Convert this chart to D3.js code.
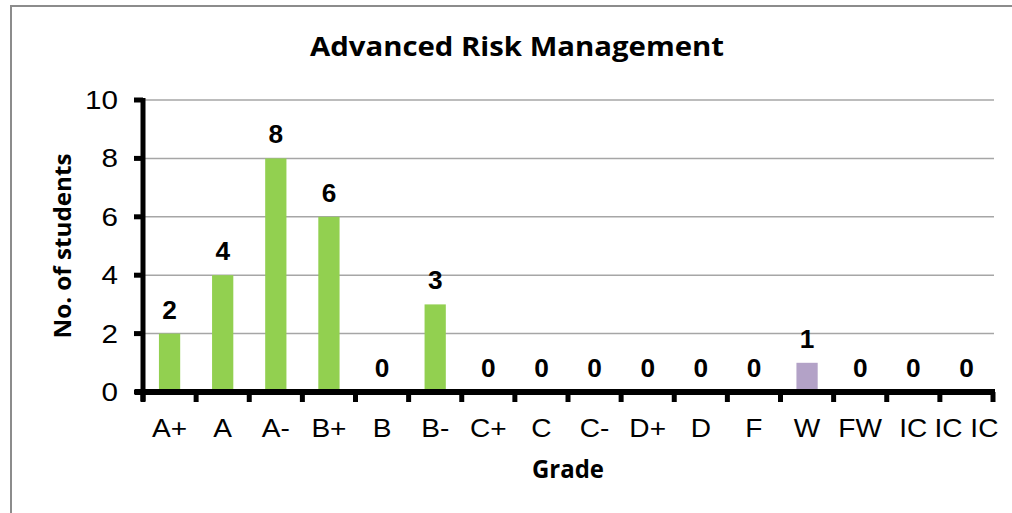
<!DOCTYPE html>
<html>
<head>
<meta charset="utf-8">
<script src="https://cdn.jsdelivr.net/npm/d3@7"></script>
<style>
  html, body { margin: 0; padding: 0; background: #fff; }
  svg { display: block; }
</style>
</head>
<body>
<svg id="chart"></svg>
<script>
// chart data
var grades = ["A+", "A", "A-", "B+", "B", "B-", "C+", "C", "C-", "D+", "D", "F", "W", "FW", "IC", "IC IC"];
var students = [2, 4, 8, 6, 0, 3, 0, 0, 0, 0, 0, 0, 1, 0, 0, 0];
var barColors = ["#92d050", "#92d050", "#92d050", "#92d050", "#92d050", "#92d050", "#92d050", "#92d050",
                 "#92d050", "#92d050", "#92d050", "#92d050", "#b3a2c7", "#92d050", "#92d050", "#92d050"];
var yTicks = [0, 2, 4, 6, 8, 10];

var width = 1012, height = 513;
var svg = d3.select("#chart").attr("width", width).attr("height", height);

// outer frame
svg.append("rect")
    .attr("x", 11).attr("y", 6)
    .attr("width", width + 10).attr("height", height + 10)
    .attr("fill", "none")
    .attr("stroke", "#8c8c8c")
    .attr("stroke-width", 2);

var plot = { left: 143, right: 993, top: 100, bottom: 392 };

var x = d3.scaleBand()
    .domain(d3.range(grades.length))
    .range([plot.left, plot.right])
    .paddingInner(0.6)
    .paddingOuter(0.3);

var xb = d3.scaleBand()
    .domain(d3.range(grades.length))
    .range([plot.left, plot.right]);

var y = d3.scaleLinear().domain([0, 10]).range([plot.bottom, plot.top]);

// stretched text helper
function label(g, txt, px, py, opts) {
    var sx = opts.sx || 1;
    var t = g.append("text")
        .attr("transform", "translate(" + px + "," + py + ") scale(" + sx + ",1)" + (opts.rot ? " rotate(" + opts.rot + ")" : ""))
        .attr("text-anchor", opts.anchor || "middle")
        .attr("font-family", opts.family || "'Liberation Sans', Arial, sans-serif")
        .attr("font-size", opts.size || 26)
        .attr("font-weight", opts.weight || "normal")
        .attr("fill", "#000")
        .text(txt);
    if (opts.len) t.attr("textLength", opts.len).attr("lengthAdjust", "spacingAndGlyphs");
    return t;
}

// gridlines
svg.append("g")
    .selectAll("line")
    .data(yTicks.filter(function (d) { return d > 0; }))
    .enter().append("line")
    .attr("x1", plot.left).attr("x2", plot.right + 1)
    .attr("y1", function (d) { return y(d); })
    .attr("y2", function (d) { return y(d); })
    .attr("stroke", "#a6a6a6")
    .attr("stroke-width", 1.5);

// bars
svg.append("g")
    .selectAll("rect")
    .data(students)
    .enter().append("rect")
    .attr("x", function (d, i) { return x(i); })
    .attr("width", x.bandwidth())
    .attr("y", function (d) { return y(d); })
    .attr("height", function (d) { return y(0) - y(d); })
    .attr("fill", function (d, i) { return barColors[i]; });

// axes lines and ticks
var axes = svg.append("g");
axes.append("line")
    .attr("x1", plot.left).attr("x2", plot.left)
    .attr("y1", plot.top - 2).attr("y2", plot.bottom + 9)
    .attr("stroke", "#000").attr("stroke-width", 5);
axes.append("line")
    .attr("x1", plot.left - 8).attr("x2", plot.right + 2)
    .attr("y1", plot.bottom).attr("y2", plot.bottom)
    .attr("stroke", "#000").attr("stroke-width", 6);
axes.selectAll(".ytick")
    .data(yTicks)
    .enter().append("line")
    .attr("x1", plot.left - 9).attr("x2", plot.left)
    .attr("y1", function (d) { return y(d); })
    .attr("y2", function (d) { return y(d); })
    .attr("stroke", "#000").attr("stroke-width", 5);
axes.selectAll(".xtick")
    .data(d3.range(grades.length + 1))
    .enter().append("line")
    .attr("x1", function (i) { return i < grades.length ? xb(i) : plot.right; })
    .attr("x2", function (i) { return i < grades.length ? xb(i) : plot.right; })
    .attr("y1", plot.bottom).attr("y2", plot.bottom + 10)
    .attr("stroke", "#000").attr("stroke-width", 5);

// y tick labels
var ylab = svg.append("g");
yTicks.forEach(function (t) {
    label(ylab, t, 118, y(t) + 9, { anchor: "end", size: 26, sx: 1.14 });
});

// x tick labels
var xlab = svg.append("g");
grades.forEach(function (gname, i) {
    label(xlab, gname, xb(i) + xb.bandwidth() / 2, 437, { size: 26, sx: 1.08 });
});

// data labels
var dlab = svg.append("g");
students.forEach(function (v, i) {
    label(dlab, v, x(i) + x.bandwidth() / 2, y(v) - 15, { size: 25, weight: "bold", sx: 1.05 });
});

// titles
label(svg, "Advanced Risk Management", 517, 56,
    { size: 27, weight: "bold", family: "'Open Sans', Lato, sans-serif", len: 414 });
label(svg, "Grade", (plot.left + plot.right) / 2, 478,
    { size: 25, weight: "bold", family: "'Open Sans', Lato, sans-serif", len: 72 });
label(svg, "No. of students", 71, 246,
    { size: 24, weight: "bold", family: "'Open Sans', Lato, sans-serif", rot: -90, len: 185 });
</script>
</body>
</html>
